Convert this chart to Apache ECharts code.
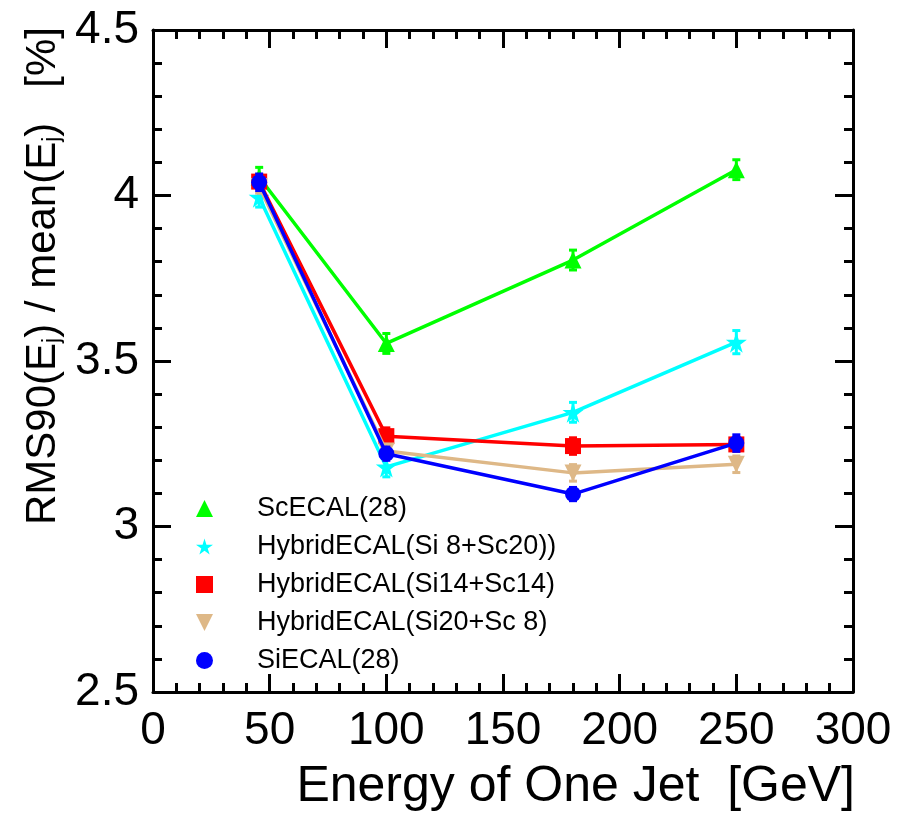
<!DOCTYPE html>
<html>
<head>
<meta charset="utf-8">
<script src="https://cdn.jsdelivr.net/npm/echarts@6/dist/echarts.min.js"></script>
<style>
	html, body { margin: 0; padding: 0; background: #fff; }
	#chart { width: 900px; height: 817px; }
</style>
</head>
<body>
<div id="chart"></div>
<script>
const energies = [45.5, 100, 180, 250]

const names = [
	'ScECAL(28)',
	'HybridECAL(Si 8+Sc20))',
	'HybridECAL(Si14+Sc14)',
	'HybridECAL(Si20+Sc 8)',
	'SiECAL(28)'
]

const scEcal = [4.055, 3.553, 3.805, 4.078]
const hybrid8 = [3.995, 3.180, 3.345, 3.557]
const hybrid14 = [4.042, 3.273, 3.243, 3.248]
const hybrid20 = [4.027, 3.228, 3.162, 3.188]
const siEcal = [4.040, 3.220, 3.098, 3.252]

const scEcalErr = [0.03, 0.03, 0.03, 0.03]
const hybrid8Err = [0.03, 0.03, 0.03, 0.035]
const hybrid14Err = [0.02, 0.025, 0.025, 0.02]
const hybrid20Err = [0.02, 0.02, 0.025, 0.025]
const siEcalErr = [0.025, 0.02, 0.02, 0.025]

const starPath = 'path://M50,0 L61,35 L98,35 L68,57 L79,91 L50,70 L21,91 L32,57 L2,35 L39,35 Z'
const downTriangle = 'path://M0,0 L10,0 L5,10 Z'

const font = '"Liberation Sans", Arial, Helvetica, sans-serif'

const styles = [
	{ color: '#00ff00', symbol: 'triangle', size: 17, rotate: 0, icon: 'triangle' },
	{ color: '#00ffff', symbol: starPath, size: 21, rotate: 0, icon: starPath },
	{ color: '#ff0000', symbol: 'rect', size: 16, rotate: 0, icon: 'rect' },
	{ color: '#deb887', symbol: 'triangle', size: 17, rotate: 180, icon: downTriangle },
	{ color: '#0000ff', symbol: 'circle', size: 16, rotate: 0, icon: 'circle' }
]

const values = [scEcal, hybrid8, hybrid14, hybrid20, siEcal]
const errors = [scEcalErr, hybrid8Err, hybrid14Err, hybrid20Err, siEcalErr]

function errorBars(color) {
	return function (params, api) {
		const x = api.value(0)
		const y = api.value(1)
		const e = api.value(2)
		const top = api.coord([x, y + e])
		const bot = api.coord([x, y - e])
		const cap = 4
		const style = { stroke: color, lineWidth: 3 }
		return {
			type: 'group',
			children: [
				{ type: 'line', shape: { x1: top[0], y1: top[1], x2: bot[0], y2: bot[1] }, style },
				{ type: 'line', shape: { x1: top[0] - cap, y1: top[1], x2: top[0] + cap, y2: top[1] }, style },
				{ type: 'line', shape: { x1: bot[0] - cap, y1: bot[1], x2: bot[0] + cap, y2: bot[1] }, style }
			]
		}
	}
}

const series = []
values.forEach((vals, i) => {
	const s = styles[i]
	series.push({
		name: names[i],
		type: 'line',
		data: energies.map((x, k) => [x, vals[k]]),
		symbol: s.symbol,
		symbolSize: s.size,
		symbolRotate: s.rotate,
		showAllSymbol: true,
		lineStyle: { color: s.color, width: 3.5 },
		itemStyle: { color: s.color },
		z: 3 + i,
		animation: false
	})
	series.push({
		type: 'custom',
		renderItem: errorBars(s.color),
		data: energies.map((x, k) => [x, vals[k], errors[i][k]]),
		z: 3 + i,
		animation: false
	})
})

const axisCommon = {
	type: 'value',
	axisLine: { show: true, onZero: false, lineStyle: { color: '#000', width: 3 } },
	axisTick: { show: true, inside: true, length: 18, lineStyle: { color: '#000', width: 3 } },
	minorTick: { show: true, splitNumber: 5, length: 9, lineStyle: { color: '#000', width: 3 } },
	splitLine: { show: false }
}

const chart = echarts.init(document.getElementById('chart'))
chart.setOption({
	animation: false,
	backgroundColor: '#fff',
	grid: { left: 153, right: 47, top: 30, bottom: 125 },
	xAxis: [
		Object.assign({}, axisCommon, {
			min: 0, max: 300, interval: 50, position: 'bottom',
			axisLabel: { fontSize: 46, color: '#000', fontFamily: font, margin: 16 }
		}),
		Object.assign({}, axisCommon, {
			min: 0, max: 300, interval: 50, position: 'top',
			axisLabel: { show: false }
		})
	],
	yAxis: [
		Object.assign({}, axisCommon, {
			min: 2.5, max: 4.5, interval: 0.5, position: 'left',
			axisLabel: { fontSize: 46, color: '#000', fontFamily: font, margin: 14 }
		}),
		Object.assign({}, axisCommon, {
			min: 2.5, max: 4.5, interval: 0.5, position: 'right',
			axisLabel: { show: false }
		})
	],
	legend: {
		orient: 'vertical',
		left: 191,
		top: 490,
		itemWidth: 17,
		itemHeight: 17,
		itemGap: 11,
		selectedMode: false,
		textStyle: { fontSize: 27, color: '#000', fontFamily: font, padding: [0, 0, 0, 39] },
		data: names.map((n, i) => ({ name: n, icon: styles[i].icon, itemStyle: { color: styles[i].color } }))
	},
	graphic: [
		{
			type: 'text',
			x: 43,
			y: 276,
			rotation: Math.PI / 2,
			style: {
				text: '{m|RMS90(E}{s|j}{m|) / mean(E}{s|j}{m|)   [%]}',
				align: 'center',
				verticalAlign: 'middle',
				fill: '#000',
				rich: {
					m: { fontSize: 42, fontFamily: font, fill: '#000' },
					s: { fontSize: 23, fontFamily: font, fill: '#000', padding: [19, 0, 0, 0] }
				}
			}
		},
		{
			type: 'text',
			right: 45,
			top: 762,
			style: {
				text: 'Energy of One Jet  [GeV]',
				fontSize: 50,
				fontFamily: font,
				fill: '#000'
			}
		}
	],
	series
})
</script>
</body>
</html>
